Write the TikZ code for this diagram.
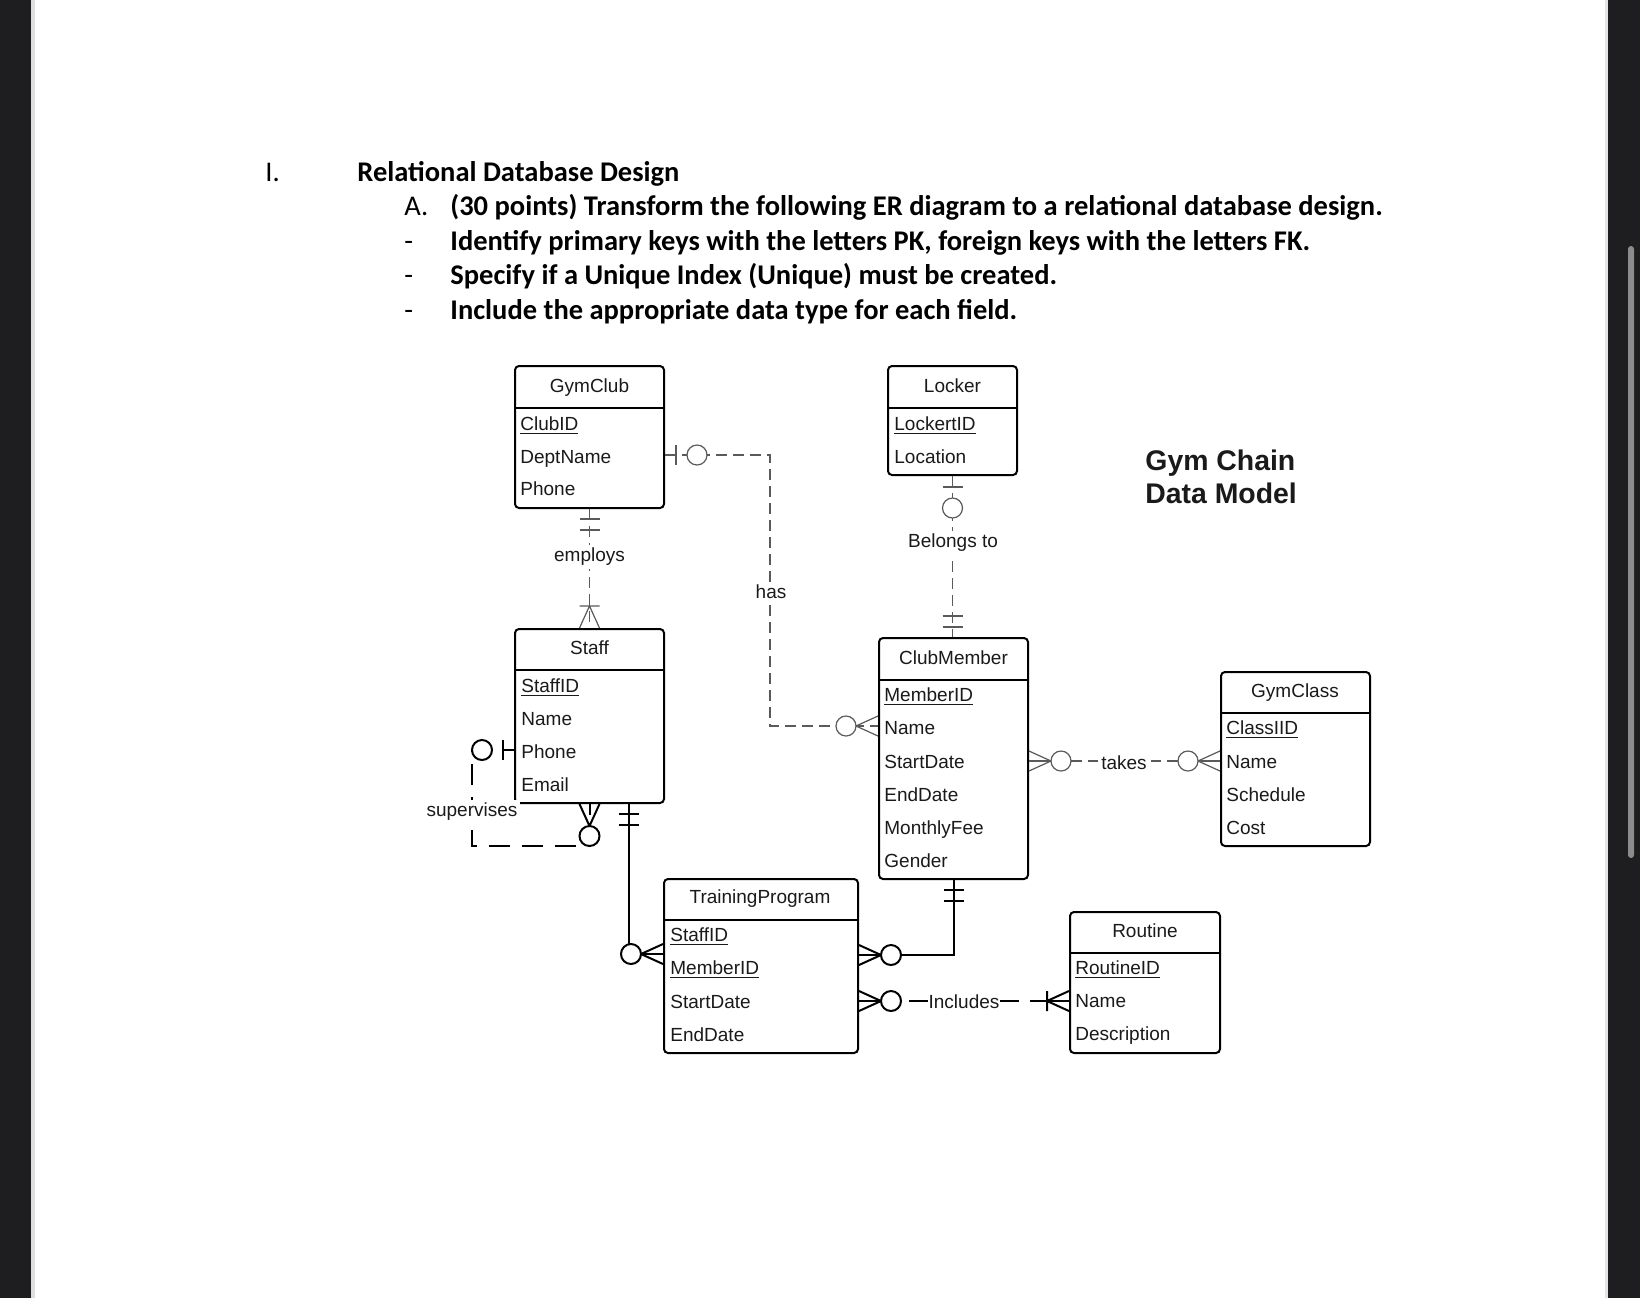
\documentclass[tikz,border=0pt]{standalone}
\usepackage{fontspec}
\setmainfont{Liberation Sans}
\newfontfamily\hdfont{Carlito}
\usetikzlibrary{calc,fit}
\definecolor{darkbg}{HTML}{1E1E20}
\definecolor{lnk}{HTML}{5A5A5A}
\definecolor{txt}{HTML}{1A1A1A}
\definecolor{scrl}{HTML}{8C8C8C}
\newcommand\pkey[1]{\underline{#1}}
\tikzset{
  mk one/.pic={\draw[solid] (10,-10) -- (10,10) (21,-10) -- (21,10);},
  mk zeroone/.pic={\draw[solid] (11,-10) -- (11,10); \draw[solid,fill=white] (32,0) circle[radius=10];},
  mk zeromany/.pic={\draw[solid] (0,-10) -- (22,0) -- (0,10); \draw[solid,fill=white] (32,0) circle[radius=10];},
  mk onemany/.pic={\draw[solid] (0,-10) -- (22,0) -- (0,10) (22,-10) -- (22,10);},
}
\begin{document}
\begin{tikzpicture}[x=0.5pt,y=-0.5pt,
  ent/.style={draw=black, line width=1pt, rounded corners=2pt, inner sep=0pt},
  sepline/.style={draw=black, line width=1pt},
  ttl/.style={font=\fontsize{9.5pt}{11pt}\selectfont, text=txt, inner sep=0pt, anchor=base},
  att/.style={font=\fontsize{9.5pt}{11pt}\selectfont, text=txt, inner sep=0pt, anchor=base west},
  lbl/.style={font=\fontsize{9.5pt}{11pt}\selectfont, text=txt, fill=white, inner sep=1.5pt},
  thinln/.style={draw=lnk, line width=0.6pt},
  thickln/.style={draw=black, line width=1pt},
  mthin/.style={color=lnk, line width=0.6pt},
  mthick/.style={color=black, line width=1pt},
  hd/.style={font=\hdfont\fontsize{14.25pt}{17pt}\selectfont, text=black, inner sep=0pt, anchor=base west},
  hdb/.style={font=\hdfont\bfseries\fontsize{14.25pt}{17pt}\selectfont, text=black, inner sep=0pt, anchor=base west},
  big/.style={font=\bfseries\fontsize{14.2pt}{17pt}\selectfont, text=txt, inner sep=0pt, anchor=base west},
]
\useasboundingbox (0,0) rectangle (1640,1298);
% page and window frame
\fill[darkbg] (0,0) rectangle (1640,1298);
\fill[white] (35,0) rectangle (1605,1298);
\fill[gray!25] (31,0) rectangle (35,1298);
\fill[gray!20] (1605,0) rectangle (1608,1298);
\fill[scrl, rounded corners=1.5pt] (1628,246) rectangle (1634,858);

% header
\node[hd] (h1n) at (265,181) {I.};
\node[hdb] (h1) at (357,181) {Relational Database Design};
\node[hd] (h2n) at (404,215) {A.};
\node[hdb] (h2) at (450,215) {(30 points) Transform the following ER diagram to a relational database design.};
\node[hd] (h3n) at (404,250) {-};
\node[hdb] (h3) at (450,250) {Identify primary keys with the letters PK, foreign keys with the letters FK.};
\node[hd] (h4n) at (404,284) {-};
\node[hdb] (h4) at (450,284) {Specify if a Unique Index (Unique) must be created.};
\node[hd] (h5n) at (404,319) {-};
\node[hdb] (h5) at (450,319) {Include the appropriate data type for each field.};

\node[big] (gc1) at (1145,470) {Gym Chain};
\node[big] (gc2) at (1145,503) {Data Model};

% GymClub
\node[ent, fit={(515,366) (664,508)}] (gym) {};
\draw[sepline] (515,408) -- (664,408);
\node[ttl] (gym-t) at (589.5,392) {GymClub};
\node[att] (gym-1) at (520,430) {\pkey{ClubID}};
\node[att] (gym-2) at (520,463) {DeptName};
\node[att] (gym-3) at (520,495) {Phone};

% Locker
\node[ent, fit={(888,366) (1017,475)}] (locker) {};
\draw[sepline] (888,408) -- (1017,408);
\node[ttl] (locker-t) at (952.5,392) {Locker};
\node[att] (locker-1) at (894,430) {\pkey{LockertID}};
\node[att] (locker-2) at (894,463) {Location};

% Staff
\node[ent, fit={(515,629) (664,803)}] (staff) {};
\draw[sepline] (515,670) -- (664,670);
\node[ttl] (staff-t) at (589.5,654) {Staff};
\node[att] (staff-1) at (521,692) {\pkey{StaffID}};
\node[att] (staff-2) at (521,725) {Name};
\node[att] (staff-3) at (521,758) {Phone};
\node[att] (staff-4) at (521,791) {Email};

% ClubMember
\node[ent, fit={(879,638) (1028,879)}] (cm) {};
\draw[sepline] (879,680) -- (1028,680);
\node[ttl] (cm-t) at (953.5,664) {ClubMember};
\node[att] (cm-1) at (884,701) {\pkey{MemberID}};
\node[att] (cm-2) at (884,734) {Name};
\node[att] (cm-3) at (884,768) {StartDate};
\node[att] (cm-4) at (884,801) {EndDate};
\node[att] (cm-5) at (884,834) {MonthlyFee};
\node[att] (cm-6) at (884,867) {Gender};

% GymClass
\node[ent, fit={(1221,672) (1370,846)}] (gymclass) {};
\draw[sepline] (1221,713) -- (1370,713);
\node[ttl] (gymclass-t) at (1295,697) {GymClass};
\node[att] (gymclass-1) at (1226,734) {\pkey{ClassIID}};
\node[att] (gymclass-2) at (1226,768) {Name};
\node[att] (gymclass-3) at (1226,801) {Schedule};
\node[att] (gymclass-4) at (1226,834) {Cost};

% TrainingProgram
\node[ent, fit={(664,879) (858,1053)}] (tp) {};
\draw[sepline] (664,920) -- (858,920);
\node[ttl] (tp-t) at (760,903) {TrainingProgram};
\node[att] (tp-1) at (670,941) {\pkey{StaffID}};
\node[att] (tp-2) at (670,974) {\pkey{MemberID}};
\node[att] (tp-3) at (670,1008) {StartDate};
\node[att] (tp-4) at (670,1041) {EndDate};

% Routine
\node[ent, fit={(1070,912) (1220,1053)}] (routine) {};
\draw[sepline] (1070,953) -- (1220,953);
\node[ttl] (routine-t) at (1145,937) {Routine};
\node[att] (routine-1) at (1075,974) {\pkey{RoutineID}};
\node[att] (routine-2) at (1075,1007) {Name};
\node[att] (routine-3) at (1075,1040) {Description};

% connectors
\draw[thinln, dash pattern=on 5.5pt off 3pt] (gym.south) -- (staff.north);
\draw[thinln, dash pattern=on 5.5pt off 3pt] ($(gym.north east)+(0,90)$) -| ($(cm.north west)+(-108,89)$) -- ($(cm.north west)+(0,89)$);
\draw[thinln, dash pattern=on 5.5pt off 3pt] (locker.south) -- (locker.south |- cm.north);
\draw[thinln, dash pattern=on 26.5pt off 3pt on 5pt off 26.5pt on 5pt off 3pt on 30pt] ($(cm.north east)+(0,124)$) -- ($(gymclass.north west)+(0,90)$);
\draw[thickln, dash pattern=on 10.5pt off 6pt, dash phase=5pt] ($(staff.north west)+(0,122)$) -| ($(staff.south)+(-117.5,42)$) -| (staff.south);
\draw[thickln] ($(staff.south east)+(-36,0)$) |- ($(tp.north west)+(0,76)$);
\draw[thickln] (cm.south) |- ($(tp.north east)+(0,77)$);
\draw[thickln, dash pattern=on 21pt off 4pt on 9.5pt off 36pt on 9.5pt off 5.5pt on 50pt] ($(tp.north east)+(0,123)$) -- ($(routine.north west)+(0,90)$);

% markers
\pic[mthin, rotate=-90] at (gym.south) {mk one};
\pic[mthin, rotate=90] at (staff.north) {mk onemany};
\pic[mthin] at ($(gym.north east)+(0,90)$) {mk zeroone};
\pic[mthin, rotate=180] at ($(cm.north west)+(0,89)$) {mk zeromany};
\pic[mthin, rotate=-90] at (locker.south) {mk zeroone};
\pic[mthin, rotate=90] at (locker.south |- cm.north) {mk one};
\pic[mthin] at ($(cm.north east)+(0,124)$) {mk zeromany};
\pic[mthin, rotate=180] at ($(gymclass.north west)+(0,90)$) {mk zeromany};
\pic[mthick, rotate=180] at ($(staff.north west)+(0,122)$) {mk zeroone};
\pic[mthick, rotate=-90] at (staff.south) {mk zeromany};
\pic[mthick, rotate=-90] at ($(staff.south east)+(-36,0)$) {mk one};
\pic[mthick, rotate=180] at ($(tp.north west)+(0,76)$) {mk zeromany};
\pic[mthick, rotate=-90] at (cm.south) {mk one};
\pic[mthick] at ($(tp.north east)+(0,77)$) {mk zeromany};
\pic[mthick] at ($(tp.north east)+(0,123)$) {mk zeromany};
\pic[mthick, rotate=180] at ($(routine.north west)+(0,90)$) {mk onemany};

% relationship labels
\node[lbl] (l-emp) at (589.5,557) {employs};
\node[lbl] (l-has) at (771,592) {has};
\node[lbl] (l-bel) at (953,543) {Belongs to};
\node[lbl] (l-tak) at (1124,763) {takes};
\node[lbl] (l-sup) at (472,812) {supervises};
\node[lbl, inner xsep=0.5pt] (l-inc) at (964,1002) {Includes};
\end{tikzpicture}
\end{document}
